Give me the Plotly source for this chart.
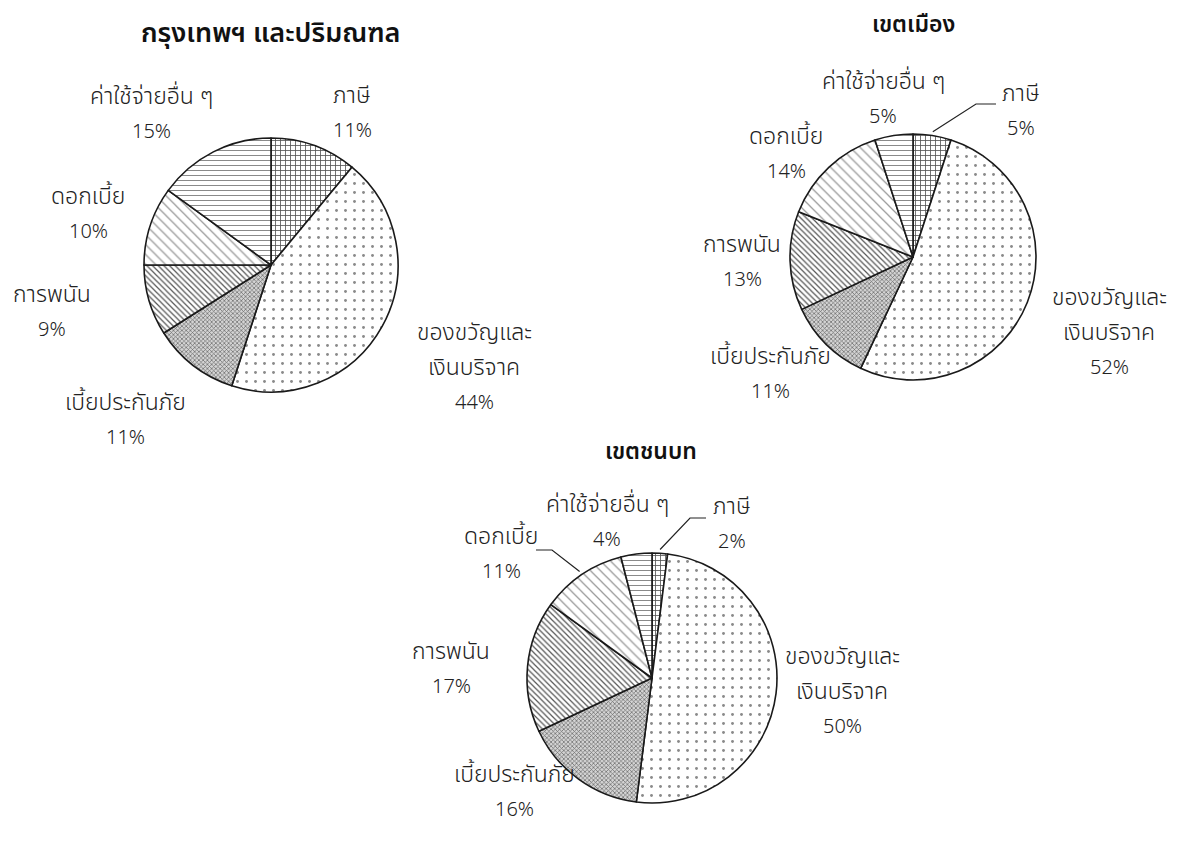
import math
import plotly.graph_objects as go

# ---------------- data ----------------
categories = ["ภาษี", "ของขวัญและเงินบริจาค", "เบี้ยประกันภัย", "การพนัน", "ดอกเบี้ย", "ค่าใช้จ่ายอื่น ๆ"]
label_lines = [["ภาษี"], ["ของขวัญและ", "เงินบริจาค"], ["เบี้ยประกันภัย"], ["การพนัน"], ["ดอกเบี้ย"], ["ค่าใช้จ่ายอื่น ๆ"]]
values_bkk = [11, 44, 11, 9, 10, 15]
values_urban = [5, 52, 11, 13, 14, 5]
values_rural = [2, 50, 16, 17, 11, 4]
titles = ["กรุงเทพฯ และปริมณฑล", "เขตเมือง", "เขตชนบท"]

# ---------------- layout / style ----------------
PAGE_W, PAGE_H = 1182, 857
OFF = 8                      # default page body margin
W, H = PAGE_W - 2 * OFF, PAGE_H - 2 * OFF
FONT = "Noto Sans Thai, Noto Sans, DejaVu Sans, sans-serif"
LINE_GAP = 35
LABEL_SIZE = 23
PCT_SIZE = 20

pies = [
    dict(values=values_bkk, title=titles[0], cx=271, cy=265, r=127, title_pos=(270, 33), title_size=27,
         label_pos=[(352, 96), (474, 333), (125, 403), (52, 295), (88, 197), (151, 97)], leaders={}),
    dict(values=values_urban, title=titles[1], cx=913, cy=257, r=123, title_pos=(913, 25), title_size=23,
         label_pos=[(1021, 94), (1109, 298), (770, 357), (742, 245), (786, 137), (883, 82)],
         leaders={0: ((976, 104), (996, 104))}),
    dict(values=values_rural, title=titles[2], cx=652, cy=678, r=125, title_pos=(651, 452), title_size=23,
         label_pos=[(732, 507), (842, 657), (514, 775), (451, 652), (501, 537), (607, 505)],
         leaders={0: ((690, 518), (706, 518)), 4: ((552, 550), (536, 550))}),
]

patterns = [
    dict(shape="+", fgcolor="#555555", bgcolor="white", size=5, solidity=0.3),
    dict(shape=".", fgcolor="#8a8a8a", bgcolor="white", size=9, solidity=0.08),
    dict(shape="x", fgcolor="#666666", bgcolor="#d4d4d4", size=3, solidity=0.4),
    dict(shape="\\", fgcolor="#555555", bgcolor="white", size=4, solidity=0.3),
    dict(shape="\\", fgcolor="#9a9a9a", bgcolor="white", size=7, solidity=0.18),
    dict(shape="-", fgcolor="#8a8a8a", bgcolor="white", size=5, solidity=0.2),
]

def px_x(x):
    return (x - OFF) / W

def px_y(y):
    return 1 - (y - OFF) / H

fig = go.Figure()
annotations = []
shapes = []

for p in pies:
    cx, cy, r = p["cx"], p["cy"], p["r"]
    fig.add_trace(go.Pie(
        labels=categories,
        values=p["values"],
        sort=False,
        direction="clockwise",
        rotation=0,
        textinfo="none",
        hoverinfo="label+percent",
        showlegend=False,
        domain=dict(x=[px_x(cx - r), px_x(cx + r)], y=[px_y(cy + r), px_y(cy - r)]),
        marker=dict(
            colors=["white"] * len(categories),
            line=dict(color="#1a1a1a", width=1.6),
            pattern=dict(
                shape=[pt["shape"] for pt in patterns],
                fgcolor=[pt["fgcolor"] for pt in patterns],
                bgcolor=[pt["bgcolor"] for pt in patterns],
                size=[pt["size"] for pt in patterns],
                solidity=[pt["solidity"] for pt in patterns],
                fillmode="replace",
            ),
        ),
    ))
    # title
    tx, ty = p["title_pos"]
    annotations.append(dict(x=px_x(tx), y=px_y(ty), xref="paper", yref="paper", text=p["title"],
                            showarrow=False,
                            font=dict(family=FONT, size=p["title_size"], color="#111111", weight=600),
                            xanchor="center", yanchor="middle"))
    # labels
    total = sum(p["values"])
    cum = 0
    for i, v in enumerate(p["values"]):
        lx, ly = p["label_pos"][i]
        lines = label_lines[i] + ["%d%%" % round(100 * v / total)]
        for k, line in enumerate(lines):
            is_pct = k == len(lines) - 1
            annotations.append(dict(x=px_x(lx), y=px_y(ly + k * LINE_GAP), xref="paper", yref="paper",
                                    text=line, showarrow=False,
                                    font=dict(family=FONT, size=PCT_SIZE if is_pct else LABEL_SIZE,
                                              color="#222222", weight=300),
                                    xanchor="center", yanchor="middle"))
        mid = (cum + v / 2) / total * 2 * math.pi
        if i in p["leaders"]:
            (ex, ey), (fx, fy) = p["leaders"][i]
            sx = cx + 1.03 * r * math.sin(mid)
            sy = cy - 1.03 * r * math.cos(mid)
            path = "M %f,%f L %f,%f L %f,%f" % (px_x(sx), px_y(sy), px_x(ex), px_y(ey), px_x(fx), px_y(fy))
            shapes.append(dict(type="path", xref="paper", yref="paper", path=path,
                               line=dict(color="#222222", width=1.2)))
        cum += v

fig.update_layout(
    width=W, height=H,
    margin=dict(l=0, r=0, t=0, b=0),
    paper_bgcolor="white",
    plot_bgcolor="white",
    annotations=annotations,
    shapes=shapes,
    font=dict(family=FONT),
)

fig.write_html("out.html")
